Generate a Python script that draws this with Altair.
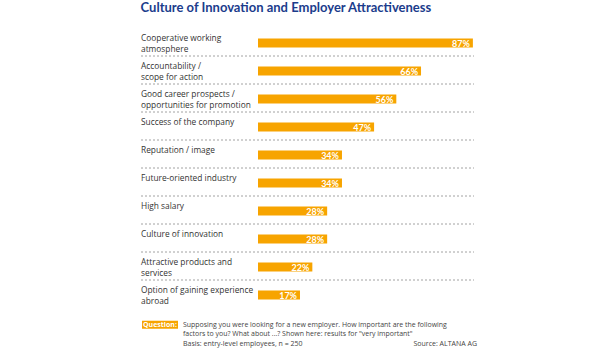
import altair as alt
import pandas as pd

title_text = "Culture of Innovation and Employer Attractiveness"
categories = [
    "Cooperative working\natmosphere",
    "Accountability /\nscope for action",
    "Good career prospects /\nopportunities for promotion",
    "Success of the company",
    "Reputation / image",
    "Future-oriented industry",
    "High salary",
    "Culture of innovation",
    "Attractive products and\nservices",
    "Option of gaining experience\nabroad",
]
values = [87, 66, 56, 47, 34, 34, 28, 28, 22, 17]
question_label = ["Question:"]
question_text = [
    "Supposing you were looking for a new employer. How important are the following\n"
    "factors to you? What about ...? Shown here: results for \"very important\""
]
basis_text = ["Basis: entry-level employees, n = 250"]
source_text = ["Source: ALTANA AG"]

ORANGE = "#F7A400"
BLUE = "#1B3C8C"
FONT = "Open Sans"

df = pd.DataFrame({"label": categories, "value": values, "idx": list(range(len(values)))})

y = alt.Y("label:N", sort=categories, axis=None,
          scale=alt.Scale(paddingInner=0, paddingOuter=0))
xs = alt.Scale(domain=[0, 100], range=[0, 247])

base = alt.Chart(df)

bars = base.mark_bar(color=ORANGE, height=9, yOffset=1).encode(
    x=alt.X("value:Q", scale=xs, axis=None), y=y)

vals = base.mark_text(align="right", baseline="middle", dx=-3, yOffset=1.5,
                      color="white", fontWeight="bold", fontSize=9, font="Lato").encode(
    x=alt.X("value:Q", scale=xs), y=y, text=alt.Text("pct:N")
).transform_calculate(pct="datum.value + '%'")

labels = base.mark_text(align="left", baseline="alphabetic", yOffset=-1.5, lineBreak="\n",
                        lineHeight=11, fontSize=8.35, font=FONT, color="#333333").encode(
    x=alt.value(-117), y=y, text="label:N")

seps = base.transform_filter("datum.idx < 9").mark_rule(
    color="#8a8a8a", strokeDash=[2, 2], strokeWidth=0.8, yOffset=14).encode(
    x=alt.value(-117), x2=alt.value(216), y=y)

qbox = alt.Chart(pd.DataFrame({"t": question_label})).mark_rect(color=ORANGE).encode(
    x=alt.value(-116), x2=alt.value(-80), y=alt.value(292.7), y2=alt.value(300.7))
qlabel = alt.Chart(pd.DataFrame({"t": question_label})).mark_text(
    align="center", baseline="middle", color="white", fontWeight="bold",
    fontSize=7, font=FONT).encode(x=alt.value(-98), y=alt.value(297), text="t:N")
qtext = alt.Chart(pd.DataFrame({"t": question_text})).mark_text(
    align="left", baseline="middle", lineBreak="\n", lineHeight=8.7,
    fontSize=6.95, font=FONT, color="#444444").encode(
    x=alt.value(-75), y=alt.value(297), text="t:N")
basis = alt.Chart(pd.DataFrame({"t": basis_text})).mark_text(
    align="left", baseline="middle", fontSize=7, font=FONT, color="#444444").encode(
    x=alt.value(-75), y=alt.value(316), text="t:N")
source = alt.Chart(pd.DataFrame({"t": source_text})).mark_text(
    align="right", baseline="middle", fontSize=7, font=FONT, color="#444444").encode(
    x=alt.value(219), y=alt.value(316), text="t:N")

chart = alt.layer(seps, bars, vals, labels, qbox, qlabel, qtext, basis, source).properties(
    width=216, height=280,
    background="white",
    title=alt.TitleParams(title_text, anchor="start", offset=3,
                          baseline="alphabetic", font="Lato", fontSize=13,
                          fontWeight="bold", color=BLUE),
    autosize=alt.AutoSizeParams(type="none"),
    padding={"left": 258, "top": 28, "right": 141, "bottom": 42},
).configure_view(stroke=None)

chart.save("out.html", embed_options={"renderer": "svg", "actions": False})
